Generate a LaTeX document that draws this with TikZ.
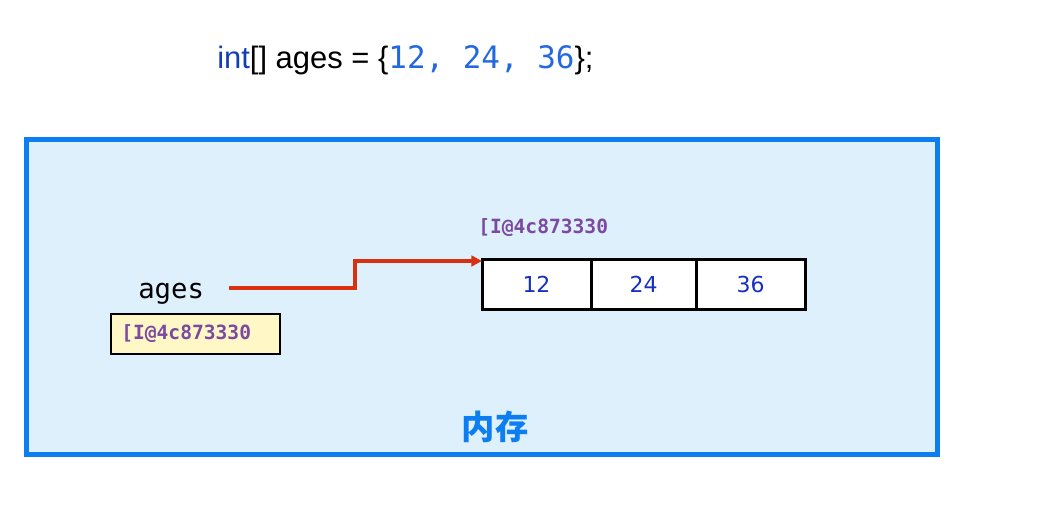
\documentclass[tikz,border=0pt]{standalone}
\usepackage{fontspec}
\setmainfont{Liberation Sans}
\setmonofont{DejaVu Sans Mono}
\newfontfamily\cjk{Noto Sans CJK SC}
\newfontfamily\numfont{DejaVu Sans}
\usetikzlibrary{arrows.meta}
\definecolor{boxblue}{HTML}{0D7EF2}
\definecolor{boxfill}{HTML}{DFF0FD}
\definecolor{kwblue}{HTML}{1040B0}
\definecolor{litblue}{HTML}{2468E0}
\definecolor{addrpurple}{HTML}{7B4AA0}
\definecolor{arrowred}{HTML}{D93010}
\definecolor{notefill}{HTML}{FFF8C6}
\definecolor{cellblue}{HTML}{1530C0}
\tikzset{
  cellbox/.style={draw=black, line width=2.25pt, fill=white, minimum height=37.5pt, inner sep=0pt, font=\numfont\fontsize{16.5}{18}\selectfont, text=cellblue},
  addr/.style={font=\ttfamily\bfseries\fontsize{14.7}{16}\selectfont, text=addrpurple, inner sep=0pt},
  ref/.style={draw=arrowred, line width=2.4pt, -{Triangle[length=8pt,width=8pt]}},
}
\begin{document}
\begin{tikzpicture}[x=0.75pt,y=-0.75pt]
\useasboundingbox (0,0) rectangle (1043,504);
% code line
\node[anchor=base west, inner sep=0pt, font=\fontsize{23.2}{27}\selectfont] (code) at (217,68)
  {\textcolor{kwblue}{int}[] ages = \{\textcolor{litblue}{\ttfamily 12, 24, 36}\};};
% memory box
\node[draw=boxblue, fill=boxfill, line width=3.75pt, minimum width=683.25pt, minimum height=236.25pt, inner sep=0pt] (mem) at (482,297) {};
\node[font=\cjk\bfseries\fontsize{25}{28}\selectfont, text=boxblue, inner sep=0pt] (memlabel) at (495,427) {内存};
% variable
\node[anchor=base west, inner sep=0pt, font=\ttfamily\fontsize{20.5}{24}\selectfont] (ages) at (138,298) {ages};
\node[draw=black, line width=1.5pt, fill=notefill, minimum width=126.75pt, minimum height=30pt, inner sep=0pt] (note) at (195.5,334) {};
\node[addr, anchor=west] (noteaddr) at (121,334) {[I@4c873330};
% array
\node[cellbox, minimum width=81.75pt] (c1) at (536.5,284) {12};
\node[cellbox, minimum width=78.75pt] (c2) at (643.5,284) {24};
\node[cellbox, minimum width=81.75pt] (c3) at (750.5,284) {36};
\node[addr, anchor=west] (arraddr) at (478,228) {[I@4c873330};
% reference arrow
\coordinate (start) at (229,288);
\coordinate (bend1) at (355,288);
\coordinate (bend2) at (355,261);
\coordinate (tip) at (482,261);
\draw[ref] (start) -- (bend1) -- (bend2) -- (tip);
\end{tikzpicture}
\end{document}
